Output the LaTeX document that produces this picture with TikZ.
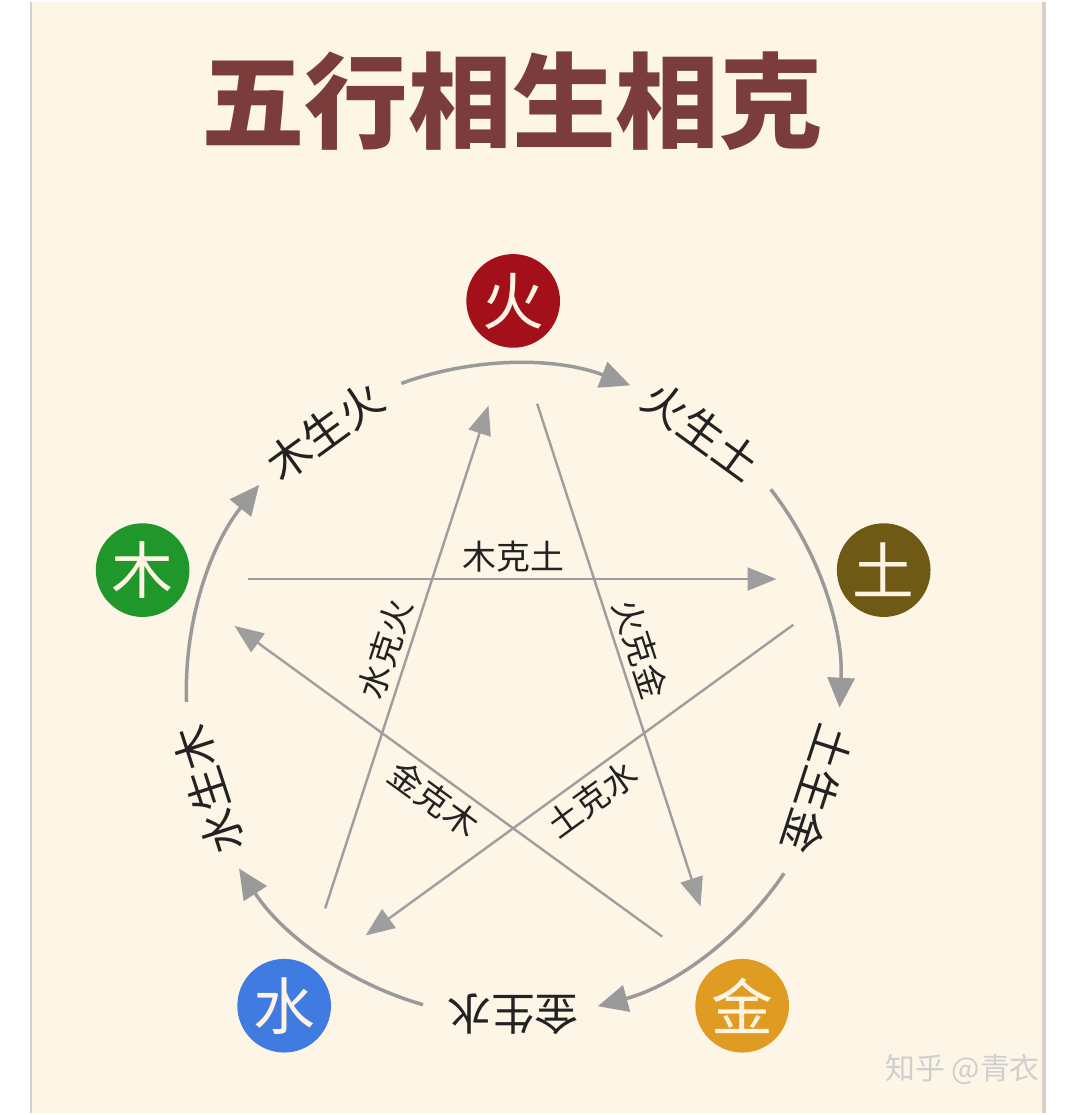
\documentclass[tikz,border=0pt]{standalone}
\usepackage{fontspec}
\newfontfamily\cjk{Noto Sans CJK SC}
\usetikzlibrary{arrows.meta}
\definecolor{paper}{HTML}{FDF6E6}
\definecolor{edge}{HTML}{D6D0C6}
\definecolor{titlered}{HTML}{7B3C3C}
\definecolor{huored}{HTML}{A3101A}
\definecolor{tuolive}{HTML}{6E5A14}
\definecolor{jinorange}{HTML}{E09C22}
\definecolor{shuiblue}{HTML}{3F7BE0}
\definecolor{mugreen}{HTML}{1F972A}
\definecolor{glyph}{HTML}{FFF4E4}
\definecolor{arcgray}{HTML}{9A9A9A}
\definecolor{linegray}{HTML}{9E9E9E}
\definecolor{ink}{HTML}{222222}
\definecolor{wmgray}{HTML}{CFCFCF}
\tikzset{
  element/.style={circle, minimum size=94pt, inner sep=0pt, text=glyph,
    font=\cjk\fontsize{62}{62}\selectfont},
  sheng/.style={draw=arcgray, line width=3.5pt,
    -{Triangle[length=30pt,width=27pt]}},
  ke/.style={draw=linegray, line width=2.4pt,
    -{Triangle[length=29pt,width=23pt]}, shorten <=78pt, shorten >=80pt},
  shenglabel/.style={font=\cjk\fontsize{44}{44}\selectfont, text=ink},
  kelabel/.style={font=\cjk\fontsize{34}{34}\selectfont, text=ink, inner sep=4pt},
}
\begin{document}
\begin{tikzpicture}[x=1pt,y=1pt]
      % page and cream panel
      \fill[white] (-515,-424) rectangle (565,691);
      \fill[paper] (-484,-424) rectangle (533,691);
      \draw[edge, line width=2pt] (-484,-424) -- (-484,691);
      \draw[edge, line width=4pt] (533,-424) -- (533,691);
      \useasboundingbox (-515,-424) rectangle (565,691);
      \node[font=\cjk\bfseries\fontsize{104}{104}\selectfont, text=titlered]
        (title) at (-1,591) {五行相生相克};
      \path
        (90:391) node[element, fill=huored] (huo){火}
        (18:391) node[element, fill=tuolive] (tu){土}
        (-54:391) node[element, fill=jinorange] (jin){金}
        (-126:391) node[element, fill=shuiblue] (shui){水}
        (162:391) node[element, fill=mugreen] (mu){木};
      % sheng labels round the circle
      \node[shenglabel, rotate=36] (mu-huo) at (126:322) {木生火};
      \node[shenglabel, rotate=-36] (huo-tu) at (54:322) {火生土};
      \node[shenglabel, rotate=-108] (tu-jin) at (-18:322) {土生金};
      \node[shenglabel, rotate=180] (jin-shui) at (-90:325) {金生水};
      \node[shenglabel, rotate=108] (shui-mu) at (-162:322) {水生木};
      % sheng arcs
      \coordinate (arc-huo) at (110:328);
      \coordinate (arc-tu) at (38:328);
      \coordinate (arc-jin) at (-34:328);
      \coordinate (arc-shui) at (-106:328);
      \coordinate (arc-mu) at (182:328);
      \draw[sheng] (arc-huo) arc[start angle=110, end angle=69, radius=328];
      \draw[sheng] (arc-tu) arc[start angle=38, end angle=-3, radius=328];
      \draw[sheng] (arc-jin) arc[start angle=-34, end angle=-75, radius=328];
      \draw[sheng] (arc-shui) arc[start angle=-106, end angle=-147, radius=328];
      \draw[sheng] (arc-mu) arc[start angle=182, end angle=141, radius=328];
      % ke star
      \coordinate (s-huo) at (90:362);
      \coordinate (s-tu) at (18:362);
      \coordinate (s-jin) at (-54:362);
      \coordinate (s-shui) at (-126:362);
      \coordinate (s-mu) at (162:362);
      \begin{scope}[ke]
        \draw (s-mu) to node[kelabel, midway, sloped, above=2pt] {木克土} (s-tu);
        \draw (s-huo) to node[kelabel, midway, sloped, above=2pt] {火克金} (s-jin);
        \draw (s-tu) to node[kelabel, midway, sloped, below=2pt] {土克水} (s-shui);
        \draw (s-jin) to node[kelabel, midway, sloped, below=2pt] {金克木} (s-mu);
        \draw (s-shui) to node[kelabel, midway, sloped, above=2pt] {水克火} (s-huo);
      \end{scope}
      \node[font=\cjk\fontsize{30}{30}\selectfont, text=wmgray] (mark) at (451,-380) {知乎 @青衣};
    \end{tikzpicture}
\end{document}
